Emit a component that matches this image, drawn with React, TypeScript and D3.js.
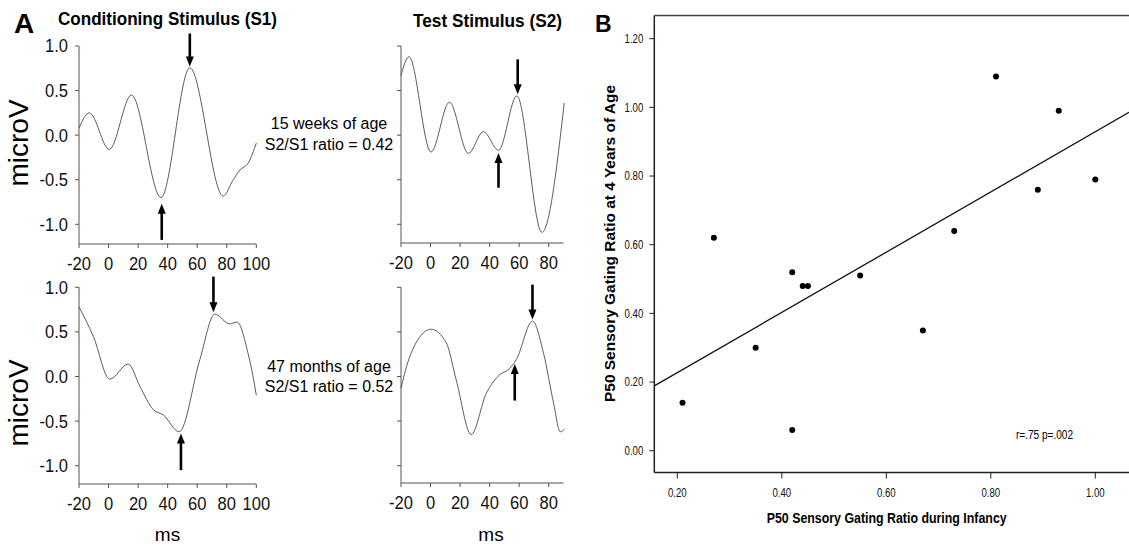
import React from "react";
import * as d3 from "d3";

// ---------- Panel A data (ms, microV) ----------
const s1Weeks: [number, number][] = [
  [-20, 0.08], [-13, 0.25], [0.5, -0.16], [15.5, 0.45], [35.5, -0.7], [55, 0.755],
  [77.6, -0.683], [84.4, -0.5], [89, -0.39], [94.6, -0.31], [100, -0.09],
];
const s2Weeks: [number, number][] = [
  [-20, 0.67], [-14.6, 0.88], [0.3, -0.19], [12.8, 0.37], [25.6, -0.205], [35.8, 0.04],
  [46, -0.17], [58.4, 0.44], [75.4, -1.09], [90.5, 0.36],
];
const s1Months: [number, number][] = [
  [-20, 0.78], [-10.3, 0.45], [0.8, -0.03], [13.3, 0.14], [21.2, -0.11], [30.2, -0.37],
  [37, -0.43], [47.8, -0.62], [61.8, 0.19], [71.9, 0.7], [82, 0.59], [87, 0.61],
  [94.4, 0.26], [97.8, 0.0], [100, -0.21],
];
const s2Months: [number, number][] = [
  [-20, -0.13], [-13.9, 0.23], [0.3, 0.53], [10.6, 0.38], [17.4, -0.04], [27.5, -0.65],
  [37.7, -0.19], [46.8, 0.02], [53.6, 0.09], [58.1, 0.19], [69, 0.62], [76.5, 0.26],
  [83.3, -0.3], [87.8, -0.62], [90.7, -0.59],
];
// arrows: [ms, tail value, tip value]
const arrowsS1Weeks: [number, number, number][] = [[55, 1.14, 0.77], [36, -1.175, -0.77]];
const arrowsS2Weeks: [number, number, number][] = [[59, 0.85, 0.46], [46, -0.59, -0.2]];
const arrowsS1Months: [number, number, number][] = [[71, 1.12, 0.72], [49, -1.05, -0.64]];
const arrowsS2Months: [number, number, number][] = [[69, 1.03, 0.64], [57, -0.27, 0.14]];

const yTicksA = [-1.0, -0.5, 0.0, 0.5, 1.0];
const xTicksS1 = [-20, 0, 20, 40, 60, 80, 100];
const xTicksS2 = [-20, 0, 20, 40, 60, 80];

// ---------- Panel B data ----------
const infancyRatio = [0.27, 0.42, 0.55, 0.73, 0.81, 0.93, 0.89, 1.0, 0.44, 0.45, 0.35, 0.21, 0.42, 0.67];
const fourYearRatio = [0.62, 0.52, 0.51, 0.64, 1.09, 0.99, 0.76, 0.79, 0.48, 0.48, 0.3, 0.14, 0.06, 0.35];
const fitSlope = 0.877;
const fitIntercept = 0.052;
const xTicksB = [0.2, 0.4, 0.6, 0.8, 1.0];
const yTicksB = [0.0, 0.2, 0.4, 0.6, 0.8, 1.0, 1.2];

const FONT = "'Liberation Sans', Arial, Helvetica, sans-serif";

type PanelProps = {
  data: [number, number][];
  arrows: [number, number, number][];
  xDomain: [number, number];
  xRange: [number, number];
  yRange: [number, number];
  axisBottom: number;
  xTicks: number[];
  showYLabels: boolean;
};

function WavePanel({ data, arrows, xDomain, xRange, yRange, axisBottom, xTicks, showYLabels }: PanelProps) {
  const x = d3.scaleLinear().domain(xDomain).range(xRange);
  const y = d3.scaleLinear().domain([-1, 1]).range(yRange);
  const line = d3
    .line<[number, number]>()
    .x((d) => x(d[0]))
    .y((d) => y(d[1]))
    .curve(d3.curveMonotoneX);
  const x0 = xRange[0];
  const axisColor = "#555";
  return (
    <g>
      <line x1={x0} x2={x0} y1={y(1)} y2={axisBottom} stroke={axisColor} strokeWidth={1} />
      {yTicksA.map((t) => (
        <g key={"y" + t}>
          <line x1={x0 - 4} x2={x0} y1={y(t)} y2={y(t)} stroke={axisColor} strokeWidth={1} />
          {showYLabels && (
            <text transform={`translate(${x0 - 11},${y(t)}) scale(0.92,1)`} dy="0.36em" textAnchor="end"
              fontSize={18} fontFamily={FONT} fill="#111">
              {t.toFixed(1)}
            </text>
          )}
        </g>
      ))}
      <line x1={x0} x2={xRange[1]} y1={axisBottom} y2={axisBottom} stroke={axisColor} strokeWidth={1} />
      {xTicks.map((t) => (
        <g key={"x" + t}>
          <line x1={x(t)} x2={x(t)} y1={axisBottom} y2={axisBottom + 4} stroke={axisColor} strokeWidth={1} />
          <text transform={`translate(${x(t)},${axisBottom + 26}) scale(0.92,1)`} textAnchor="middle"
            fontSize={18} fontFamily={FONT} fill="#111">
            {t}
          </text>
        </g>
      ))}
      <path d={line(data) || ""} fill="none" stroke="#4a4a4a" strokeWidth={0.9} />
      {arrows.map(([ms, from, to], i) => {
        const ax = x(ms);
        const y1 = y(from);
        const y2 = y(to);
        const dir = y2 > y1 ? 1 : -1;
        const headLen = 10;
        const headW = 4;
        return (
          <g key={"a" + i}>
            <line x1={ax} x2={ax} y1={y1} y2={y2 - dir * headLen * 0.8} stroke="#000" strokeWidth={2.6} />
            <path
              d={`M${ax},${y2} L${ax - headW},${y2 - dir * headLen} L${ax + headW},${y2 - dir * headLen} Z`}
              fill="#000"
            />
          </g>
        );
      })}
    </g>
  );
}

export default function App() {
  const xB = d3.scaleLinear().domain([0.2, 1.0]).range([677.3, 1095.3]);
  const yB = d3.scaleLinear().domain([0, 1.2]).range([450.7, 38.7]);
  const leftB = 654.3;
  const topB = 15.5;
  const bottomB = 472.5;
  const rightB = 1129;
  const fitX0 = xB.invert(leftB);
  const fitX1 = xB.invert(rightB);

  return (
    <svg width={1129} height={548} style={{ position: "absolute", left: 0, top: 0, background: "#fff" }}>
      <rect x={0} y={0} width={1129} height={548} fill="#fff" />
      {/* ---------- Panel A ---------- */}
      <text x={14} y={33} fontSize={28} fontWeight="bold" fontFamily={FONT}>A</text>
      <text x={167.5} y={25} textAnchor="middle" fontSize={17.5} fontWeight="bold" fontFamily={FONT}
        textLength={219} lengthAdjust="spacingAndGlyphs">
        Conditioning Stimulus (S1)
      </text>
      <text x={487.5} y={27} textAnchor="middle" fontSize={17.5} fontWeight="bold" fontFamily={FONT}
        textLength={149} lengthAdjust="spacingAndGlyphs">
        Test Stimulus (S2)
      </text>
      <text transform="translate(28,143) rotate(-90)" textAnchor="middle" fontSize={28} fontFamily={FONT}>
        microV
      </text>
      <text transform="translate(28,403) rotate(-90)" textAnchor="middle" fontSize={28} fontFamily={FONT}>
        microV
      </text>
      <text x={329} y={129} textAnchor="middle" fontSize={16} fontFamily={FONT}>15 weeks of age</text>
      <text x={329} y={150} textAnchor="middle" fontSize={16} fontFamily={FONT}>S2/S1 ratio = 0.42</text>
      <text x={329} y={372} textAnchor="middle" fontSize={16} fontFamily={FONT}>47 months of age</text>
      <text x={329} y={392} textAnchor="middle" fontSize={16} fontFamily={FONT}>S2/S1 ratio = 0.52</text>
      <text x={167.5} y={541} textAnchor="middle" fontSize={19} fontFamily={FONT}>ms</text>
      <text x={491} y={541} textAnchor="middle" fontSize={19} fontFamily={FONT}>ms</text>

      <WavePanel data={s1Weeks} arrows={arrowsS1Weeks} xDomain={[-20, 100]} xRange={[79, 256.3]}
        yRange={[224.3, 46]} axisBottom={244} xTicks={xTicksS1} showYLabels={true} />
      <WavePanel data={s2Weeks} arrows={arrowsS2Weeks} xDomain={[-20, 90]} xRange={[401, 563.5]}
        yRange={[224.3, 46]} axisBottom={243} xTicks={xTicksS2} showYLabels={false} />
      <WavePanel data={s1Months} arrows={arrowsS1Months} xDomain={[-20, 100]} xRange={[79, 256.3]}
        yRange={[465.7, 287.3]} axisBottom={484} xTicks={xTicksS1} showYLabels={true} />
      <WavePanel data={s2Months} arrows={arrowsS2Months} xDomain={[-20, 90]} xRange={[401, 563.5]}
        yRange={[465.7, 287.3]} axisBottom={483} xTicks={xTicksS2} showYLabels={false} />

      {/* ---------- Panel B ---------- */}
      <text x={595} y={32} fontSize={23} fontWeight="bold" fontFamily={FONT}>B</text>
      <defs>
        <clipPath id="clipB">
          <rect x={leftB} y={topB} width={rightB - leftB} height={bottomB - topB} />
        </clipPath>
      </defs>
      <line x1={leftB} x2={rightB} y1={topB} y2={topB} stroke="#444" strokeWidth={1.5} />
      <line x1={leftB} x2={leftB} y1={topB} y2={bottomB} stroke="#222" strokeWidth={1.5} />
      <line x1={leftB} x2={rightB} y1={bottomB} y2={bottomB} stroke="#222" strokeWidth={1.5} />
      {yTicksB.map((t) => (
        <g key={"yb" + t}>
          <line x1={leftB - 5} x2={leftB} y1={yB(t)} y2={yB(t)} stroke="#222" strokeWidth={1} />
          <text transform={`translate(${leftB - 11},${yB(t)}) scale(0.8,1)`} dy="0.36em" textAnchor="end"
            fontSize={12} fontFamily={FONT} fill="#111">
            {t.toFixed(2)}
          </text>
        </g>
      ))}
      {xTicksB.map((t) => (
        <g key={"xb" + t}>
          <line x1={xB(t)} x2={xB(t)} y1={bottomB} y2={bottomB + 6} stroke="#222" strokeWidth={1} />
          <text transform={`translate(${xB(t)},${496.5}) scale(0.8,1)`} textAnchor="middle"
            fontSize={12} fontFamily={FONT} fill="#111">
            {t.toFixed(2)}
          </text>
        </g>
      ))}
      <g clipPath="url(#clipB)">
        <line x1={xB(fitX0)} x2={xB(fitX1)} y1={yB(fitIntercept + fitSlope * fitX0)}
          y2={yB(fitIntercept + fitSlope * fitX1)} stroke="#111" strokeWidth={1.3} />
      </g>
      {infancyRatio.map((v, i) => (
        <circle key={"p" + i} cx={xB(v)} cy={yB(fourYearRatio[i])} r={3} fill="#000" />
      ))}
      <text x={1016} y={439} fontSize={12.5} fontFamily={FONT} textLength={57} lengthAdjust="spacingAndGlyphs">
        r=.75 p=.002
      </text>
      <text x={886.7} y={523} textAnchor="middle" fontSize={15.5} fontWeight="bold" fontFamily={FONT}
        textLength={240} lengthAdjust="spacingAndGlyphs">
        P50 Sensory Gating Ratio during Infancy
      </text>
      <text transform="translate(615,243.5) rotate(-90)" textAnchor="middle" fontSize={15} fontWeight="bold"
        fontFamily={FONT} textLength={317} lengthAdjust="spacingAndGlyphs">
        P50 Sensory Gating Ratio at 4 Years of Age
      </text>
    </svg>
  );
}
